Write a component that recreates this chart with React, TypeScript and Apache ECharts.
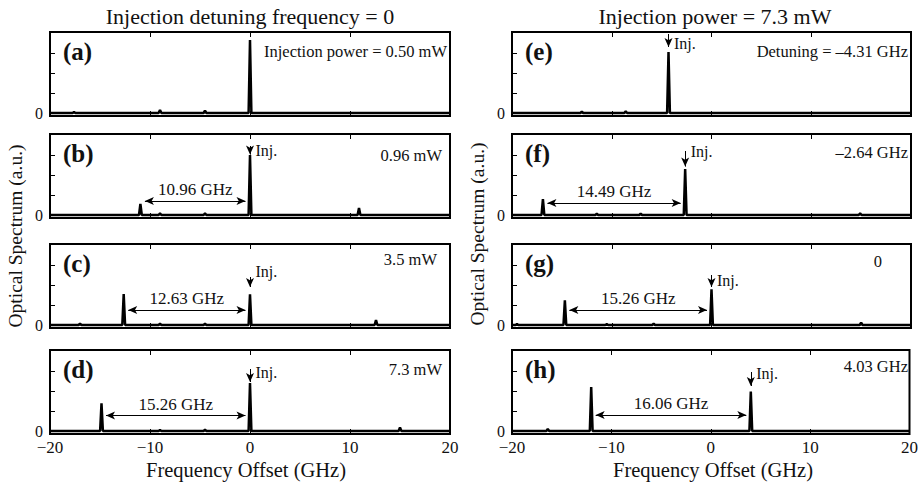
import { useEffect, useRef } from 'react';
import * as echarts from 'echarts';

const FONT = 'Liberation Serif, Times New Roman, serif';

const panelNames = ['(a)', '(b)', '(c)', '(d)', '(e)', '(f)', '(g)', '(h)'];
const cornerTexts = [
  'Injection power = 0.50 mW', '0.96 mW', '3.5 mW', '7.3 mW',
  'Detuning = \u20134.31 GHz', '\u20132.64 GHz', '0', '4.03 GHz',
];
const columnTitles = ['Injection detuning frequency = 0', 'Injection power = 7.3 mW'];
const xAxisTitle = 'Frequency Offset (GHz)';
const yAxisTitle = 'Optical Spectrum (a.u.)';

// spectral peaks: [frequency offset (GHz), height (a.u.)]
const peaksA = [[-17.6, 0.05], [-9.0, 0.15], [-4.5, 0.12], [0, 3.65]];
const peaksB = [[-10.96, 0.55], [-9.0, 0.08], [-4.5, 0.08], [0, 3.0], [10.9, 0.35]];
const peaksC = [[-17.0, 0.07], [-12.63, 1.55], [-9.0, 0.06], [-4.5, 0.06], [0, 1.53], [12.6, 0.25]];
const peaksD = [[-14.85, 1.38], [-9.0, 0.05], [-4.5, 0.06], [0, 2.4], [15.0, 0.17]];
const peaksE = [[-13.0, 0.07], [-8.6, 0.08], [-4.31, 3.05]];
const peaksF = [[-16.9, 0.8], [-11.5, 0.06], [-7.1, 0.07], [-2.64, 2.3], [14.9, 0.08]];
const peaksG = [[-19.5, 0.05], [-14.7, 1.24], [-10.5, 0.04], [-5.8, 0.06], [0, 1.78], [15.0, 0.12]];
const peaksH = [[-16.4, 0.1], [-12.03, 2.2], [4.03, 1.97]];
const panelPeaks = [peaksA, peaksB, peaksC, peaksD, peaksE, peaksF, peaksG, peaksH];

// annotations
const injFreq = [null, 0, 0, 0, -4.31, -2.64, 0, 4.03];
const sideFreq = [null, -10.96, -12.63, -14.85, null, -16.9, -14.7, -12.03];
const spacingText = [null, '10.96 GHz', '12.63 GHz', '15.26 GHz', null, '14.49 GHz', '15.26 GHz', '16.06 GHz'];
const injArrowTail = [null, 3.45, 2.4, 3.1, 3.95, 3.2, 2.5, 2.95];
const injArrowTip = [null, 3.02, 1.9, 2.45, 3.3, 2.42, 1.9, 2.25];
const injTextY = [null, 3.25, 2.7, 2.95, 3.5, 3.2, 2.25, 2.9];
const spacingY = [null, 0.7, 0.75, 0.77, null, 0.6, 0.75, 0.8];

const xMin = -20;
const xMax = 20;
const yMin = -0.15;
const yMax = 4.05;
const yTickValues = [0, 1, 2, 3];
const yLabelValues = [0];

// layout
const LEFTS = [50, 512];
const WIDTHS = [400, 399];
const TOPS = [32, 134, 244, 350];
const H = 84;
const cornerRightGap = [3, 8, 13, 8, 3, 3, 29, 3];
const cornerDy = [19, 21, 15, 19, 19, 18, 17, 16];

function spectrum(peaks: number[][]) {
  const w = 0.14;
  const sorted = [...peaks].sort((a, b) => a[0] - b[0]);
  const pts: number[][] = [[xMin, 0]];
  sorted.forEach(([f, h]) => {
    pts.push([f - w, 0], [f, h], [f + w, 0]);
  });
  pts.push([xMax, 0]);
  return pts;
}

const minusFmt = (v: number) => (v < 0 ? '\u2212' + Math.abs(v) : String(v));

export default function App() {
  const ref = useRef<HTMLDivElement>(null);
  useEffect(() => {
    document.body.style.margin = '0';
    const chart = echarts.init(ref.current!, null, { renderer: 'svg' });
    const grid: any[] = [];
    const xAxis: any[] = [];
    const yAxis: any[] = [];
    const series: any[] = [];
    const graphic: any[] = [];
    const tickStyle = { color: '#000', width: 1 };

    for (let i = 0; i < 8; i++) {
      const col = i < 4 ? 0 : 1;
      const row = i % 4;
      const left = LEFTS[col];
      const width = WIDTHS[col];
      const top = TOPS[row];
      grid.push({ left, top, width, height: H, show: true, borderColor: '#000', borderWidth: 2, backgroundColor: 'transparent' });
      xAxis.push({
        gridIndex: i, type: 'value', min: xMin, max: xMax, interval: 10, position: 'bottom',
        axisLine: { show: false, onZero: false }, splitLine: { show: false },
        axisTick: { show: true, inside: true, length: 5, lineStyle: tickStyle },
        axisLabel: { show: row === 3, formatter: minusFmt, fontFamily: FONT, fontSize: 17, color: '#111', margin: 5 },
      });
      xAxis.push({
        gridIndex: i, type: 'value', position: 'top', min: xMin, max: xMax, interval: 10,
        axisLine: { show: false, onZero: false }, splitLine: { show: false },
        axisTick: { show: true, inside: true, length: 5, lineStyle: tickStyle },
        axisLabel: { show: false },
      });
      yAxis.push({
        gridIndex: i, type: 'value', min: yMin, max: yMax, position: 'left',
        axisLine: { show: false, onZero: false }, splitLine: { show: false },
        axisTick: { show: true, inside: true, length: 5, customValues: yTickValues, lineStyle: tickStyle },
        axisLabel: { show: true, customValues: yLabelValues, fontFamily: FONT, fontSize: 16, color: '#111', margin: 7 },
      });

      const mlData: any[] = [];
      const mpData: any[] = [];
      const inj = injFreq[i];
      if (inj !== null) {
        mlData.push([
          { coord: [inj, injArrowTail[i]], symbol: 'none', label: { show: false } },
          { coord: [inj, injArrowTip[i]], symbol: 'arrow', symbolSize: [6, 9], label: { show: false } },
        ]);
        mpData.push({
          coord: [inj + 0.35, injTextY[i]], symbol: 'circle', symbolSize: 0,
          label: { show: true, position: 'right', distance: 2, formatter: 'Inj.', fontFamily: FONT, fontSize: 16, color: '#111' },
        });
      }
      const side = sideFreq[i];
      if (side !== null && inj !== null) {
        const lab = { show: true, position: 'middle', distance: 3, formatter: spacingText[i], fontFamily: FONT, fontSize: 17, color: '#111' };
        mlData.push([
          { coord: [side + 0.45, spacingY[i]], symbol: 'arrow', symbolSize: [6, 9], label: lab },
          { coord: [inj - 0.45, spacingY[i]], symbol: 'arrow', symbolSize: [6, 9], label: lab },
        ]);
      }

      series.push({
        type: 'line', xAxisIndex: 2 * i, yAxisIndex: i,
        data: spectrum(panelPeaks[i]), showSymbol: false, symbol: 'none',
        lineStyle: { color: '#000', width: 2.5 }, silent: true,
        markLine: mlData.length ? {
          silent: true, animation: false,
          lineStyle: { color: '#000', width: 1, type: 'solid' },
          itemStyle: { color: '#000' },
          data: mlData,
        } : undefined,
        markPoint: mpData.length ? { silent: true, animation: false, itemStyle: { color: '#000' }, data: mpData } : undefined,
      });

      graphic.push({
        type: 'text', x: left + 13, y: top + 19,
        style: { text: panelNames[i], fontFamily: FONT, fontSize: 25, fontWeight: 'bold', fill: '#111', align: 'left', verticalAlign: 'middle' },
      });
      graphic.push({
        type: 'text', x: left + width - cornerRightGap[i], y: top + cornerDy[i],
        style: { text: cornerTexts[i], fontFamily: FONT, fontSize: 16.5, fill: '#111', align: 'right', verticalAlign: 'middle' },
      });
    }

    graphic.push({ type: 'text', x: 250, y: 16, style: { text: columnTitles[0], fontFamily: FONT, fontSize: 22, fill: '#111', align: 'center', verticalAlign: 'middle' } });
    graphic.push({ type: 'text', x: 715, y: 16, style: { text: columnTitles[1], fontFamily: FONT, fontSize: 22, fill: '#111', align: 'center', verticalAlign: 'middle' } });
    graphic.push({ type: 'text', x: 246, y: 470, style: { text: xAxisTitle, fontFamily: FONT, fontSize: 20.5, fill: '#111', align: 'center', verticalAlign: 'middle' } });
    graphic.push({ type: 'text', x: 713, y: 470, style: { text: xAxisTitle, fontFamily: FONT, fontSize: 20.5, fill: '#111', align: 'center', verticalAlign: 'middle' } });
    graphic.push({ type: 'text', x: 15, y: 236, rotation: Math.PI / 2, style: { text: yAxisTitle, fontFamily: FONT, fontSize: 19.5, fill: '#111', align: 'center', verticalAlign: 'middle' } });
    graphic.push({ type: 'text', x: 477, y: 234, rotation: Math.PI / 2, style: { text: yAxisTitle, fontFamily: FONT, fontSize: 19.5, fill: '#111', align: 'center', verticalAlign: 'middle' } });

    chart.setOption({
      animation: false,
      backgroundColor: '#fff',
      grid, xAxis, yAxis, series, graphic,
    });
    return () => chart.dispose();
  }, []);
  return <div ref={ref} style={{ width: 921, height: 488 }} />;
}
